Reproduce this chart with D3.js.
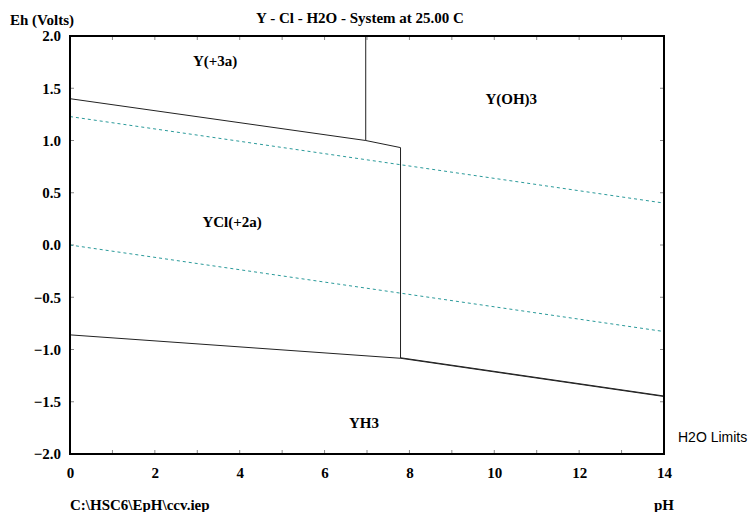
<!DOCTYPE html>
<html><head><meta charset="utf-8">
<script src="https://cdn.jsdelivr.net/npm/d3@7"></script>
<style>
body{margin:0;background:#fff;}
text{font-family:"Liberation Serif","Times New Roman",serif;font-weight:bold;font-size:15px;fill:#000;}
</style></head>
<body><svg id="c" width="750" height="512"></svg>
<script>
// data
const title = "Y - Cl - H2O - System at 25.00 C";
const xTicksMajor = [0, 2, 4, 6, 8, 10, 12, 14];
const yTicksMajor = [2.0, 1.5, 1.0, 0.5, 0.0, -0.5, -1.0, -1.5, -2.0];
// boundary lines [pH, Eh]
const lineY3_YCl = [[0, 1.40], [6.97, 1.00], [7.79, 0.932]];
const lineY3_YOH3 = [[6.97, 2.0], [6.97, 1.00]];
const lineYCl_YOH3 = [[7.79, 0.932], [7.79, -1.084]];
const lineYCl_YH3 = [[0, -0.86], [7.79, -1.084]];
const lineYOH3_YH3a = [[7.79, -1.084], [14, -1.45]];
const lineYOH3_YH3b = [[7.79, -1.079], [14, -1.445]];
const h2oUpper = [[0, 1.229], [14, 0.401]];
const h2oLower = [[0, 0.0], [14, -0.828]];
const regionLabels = [
  {name: "Y(+3a)", ph: 3.42, eh: 1.76},
  {name: "Y(OH)3", ph: 10.4, eh: 1.40},
  {name: "YCl(+2a)", ph: 3.82, eh: 0.22},
  {name: "YH3", ph: 6.93, eh: -1.70}
];

const svg = d3.select("#c");
const L = 70, R = 664, T = 36, B = 454;
const x = d3.scaleLinear().domain([0, 14]).range([L, R]);
const y = d3.scaleLinear().domain([-2, 2]).range([B, T]);

// inner ticks
const tickG = svg.append("g").attr("stroke", "#888").attr("stroke-width", 1);
const minorX = d3.range(0, 15, 1);
const minorY = d3.range(-2, 2.01, 0.5);
minorX.forEach(v => {
  tickG.append("line").attr("x1", x(v)).attr("x2", x(v)).attr("y1", B).attr("y2", B - 4);
  tickG.append("line").attr("x1", x(v)).attr("x2", x(v)).attr("y1", T).attr("y2", T + 4);
});
minorY.forEach(v => {
  tickG.append("line").attr("x1", L).attr("x2", L + 4).attr("y1", y(v)).attr("y2", y(v));
  tickG.append("line").attr("x1", R).attr("x2", R - 4).attr("y1", y(v)).attr("y2", y(v));
});

// axes labels via d3 axes (no lines)
const xAxis = svg.append("g").attr("transform", `translate(0,${B})`)
  .call(d3.axisBottom(x).tickValues(xTicksMajor).tickFormat(d3.format("d")).tickSize(0).tickPadding(10));
const yAxis = svg.append("g").attr("transform", `translate(${L},0)`)
  .call(d3.axisLeft(y).tickValues(yTicksMajor).tickFormat(d3.format(".1f")).tickSize(0).tickPadding(9));
[xAxis, yAxis].forEach(g => {
  g.select(".domain").remove();
  g.selectAll("text").attr("font-family", null).attr("font-size", null)
    .style("font-family", '"Liberation Serif",serif').style("font-weight", "bold").style("font-size", "15px").attr("fill", "#000");
});
xAxis.selectAll("text").attr("dy", "0.9em");
yAxis.selectAll("text").attr("dy", "0.32em");

const line = d3.line().x(d => x(d[0])).y(d => y(d[1]));

// H2O limits
[h2oUpper, h2oLower].forEach(d => {
  svg.append("path").datum(d).attr("d", line).attr("fill", "none")
    .attr("stroke", "#2a9a9a").attr("stroke-width", 1).attr("stroke-dasharray", "3,3");
});

// boundaries
[lineY3_YCl, lineY3_YOH3, lineYCl_YOH3, lineYCl_YH3, lineYOH3_YH3a, lineYOH3_YH3b].forEach(d => {
  svg.append("path").datum(d).attr("d", line).attr("fill", "none")
    .attr("stroke", "#222").attr("stroke-width", 1);
});

// frame
svg.append("rect").attr("x", L).attr("y", T).attr("width", R - L).attr("height", B - T)
  .attr("fill", "none").attr("stroke", "#000").attr("stroke-width", 2);

// region labels
svg.selectAll(".rl").data(regionLabels).enter().append("text")
  .attr("x", d => x(d.ph)).attr("y", d => y(d.eh)).attr("text-anchor", "middle").attr("dy", "0.35em")
  .text(d => d.name);

// titles
svg.append("text").attr("x", 360).attr("y", 23).attr("text-anchor", "middle").text(title);
svg.append("text").attr("x", 10).attr("y", 25).text("Eh (Volts)");
svg.append("text").attr("x", 70).attr("y", 510).text("C:\\HSC6\\EpH\\ccv.iep");
svg.append("text").attr("x", 664).attr("y", 510).attr("text-anchor", "middle").text("pH");
svg.append("text").attr("x", 678).attr("y", 442)
  .style("font-family", '"Liberation Sans",Arial,sans-serif').style("font-weight", "normal").style("font-size", "14px")
  .text("H2O Limits");
</script></body></html>
